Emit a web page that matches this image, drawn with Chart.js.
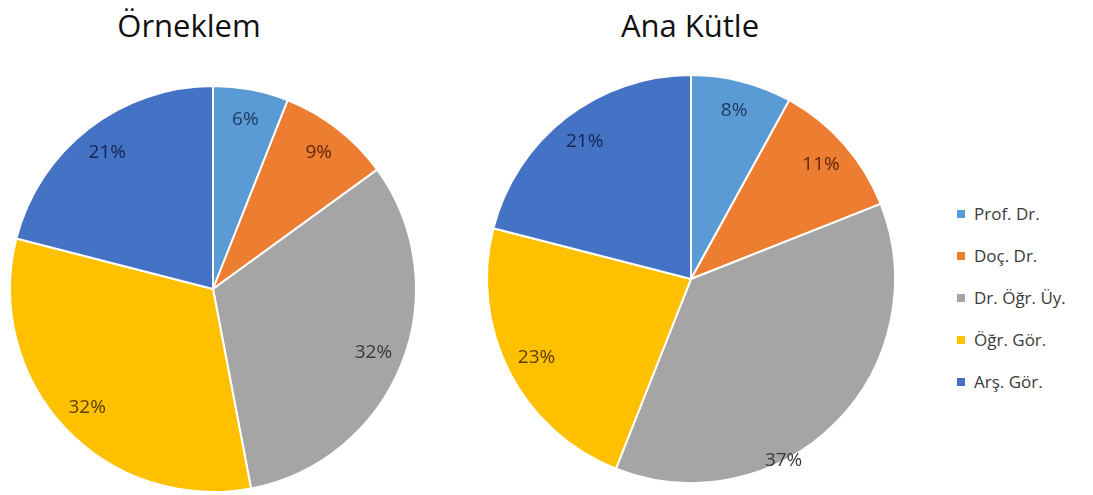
<!DOCTYPE html>
<html>
<head>
<meta charset="utf-8">
<script src="https://cdn.jsdelivr.net/npm/chart.js"></script>
<style>
  html, body { margin: 0; padding: 0; background: #fff; overflow: hidden; }
  body { width: 1093px; height: 495px; position: relative; font-family: "Open Sans", sans-serif; }
  .title { position: absolute; top: 4px; width: 300px; text-align: center; font-size: 31px; color: #111; }
  canvas { position: absolute; }
  .legend { position: absolute; left: 957px; top: 198px; }
  .legend-item { position: absolute; left: 0; height: 42px; white-space: nowrap; font-size: 17px; color: #3a3a3a; }
  .legend-item span.box { position: absolute; left: 0; top: 12px; width: 8px; height: 8px; }
  .legend-item span.txt { position: absolute; left: 17px; top: 0; line-height: 32px; }
</style>
</head>
<body>
<div class="title" style="left:39px">Örneklem</div>
<div class="title" style="left:540px">Ana Kütle</div>
<canvas id="pie1" width="430" height="430" style="left:-2px; top:74px"></canvas>
<canvas id="pie2" width="430" height="430" style="left:476px; top:64px"></canvas>
<div class="legend" id="legend"></div>
<script>
// categories (academic titles)
let categories = ['Prof. Dr.', 'Doç. Dr.', 'Dr. Öğr. Üy.', 'Öğr. Gör.', 'Arş. Gör.'];
// percentages of each title
let orneklem = [6, 9, 32, 32, 21];
let anaKutle = [8, 11, 37, 23, 21];

let colors = ['#5B9BD5', '#ED7D31', '#A5A5A5', '#FFC000', '#4472C4'];
let labelColors = ['#1F3A60', '#5E2608', '#3A3A3A', '#5A3E00', '#16244E'];

// draws the percent text inside each slice
const pctLabels = {
    id: 'pctLabels',
    afterDatasetsDraw(chart, args, opts) {
        const ctx = chart.ctx;
        const meta = chart.getDatasetMeta(0);
        const values = chart.data.datasets[0].data;
        ctx.save();
        ctx.font = '19px "Open Sans"';
        ctx.textAlign = 'center';
        ctx.textBaseline = 'middle';
        meta.data.forEach(function(arc, i) {
            let adj = (opts.adjust && opts.adjust[i]) || {};
            let mid = (arc.startAngle + arc.endAngle) / 2 + (adj.angle || 0) * Math.PI / 180;
            let r = arc.outerRadius * (adj.radius || opts.radius);
            ctx.fillStyle = labelColors[i];
            ctx.fillText(values[i] + '%', arc.x + Math.cos(mid) * r, arc.y + Math.sin(mid) * r);
        });
        ctx.restore();
    }
};

function makePie(id, values, pad, adjust) {
    return new Chart(document.getElementById(id), {
        type: 'pie',
        data: {
            labels: categories,
            datasets: [{
                data: values,
                backgroundColor: colors,
                borderColor: '#ffffff',
                borderWidth: 2
            }]
        },
        options: {
            responsive: false,
            animation: false,
            layout: { padding: pad },
            plugins: {
                legend: { display: false },
                tooltip: { enabled: false },
                pctLabels: { radius: 0.85, adjust: adjust }
            }
        },
        plugins: [pctLabels]
    });
}

const chart1 = makePie('pie1', orneklem, 11, {});
const chart2 = makePie('pie2', anaKutle, 10, { 2: { angle: 18, radius: 1.0 } });

// legend on the right
let legend = document.getElementById('legend');
categories.forEach(function(c, i) {
    let item = document.createElement('div');
    item.className = 'legend-item';
    item.style.top = (i * 42) + 'px';
    item.innerHTML = '<span class="box" style="background:' + colors[i] + '"></span><span class="txt">' + c + '</span>';
    legend.appendChild(item);
});
</script>
</body>
</html>
